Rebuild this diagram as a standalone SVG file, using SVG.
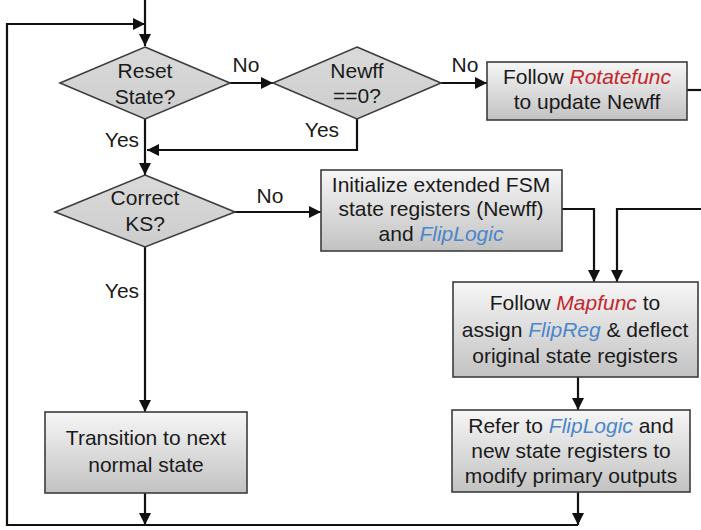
<svg xmlns="http://www.w3.org/2000/svg" width="701" height="530" viewBox="0 0 701 530">
  <style>
    text { font-family: "Liberation Sans", Arial, sans-serif; font-size: 21px; fill: #1a1a1a; text-anchor: middle; }
    .box { fill: url(#boxFill); stroke: #3c3c3c; stroke-width: 1.6; }
    .dec { fill: url(#decFill); stroke: #3c3c3c; stroke-width: 1.6; }
    .wire { fill: none; stroke: #111; stroke-width: 2.2; }
    .arr { marker-end: url(#head); }
    .red { fill: #c3262c; font-style: italic; }
    .blue { fill: #4a86c9; font-style: italic; }
  </style>
  <defs>
    <linearGradient id="boxFill" x1="0" y1="0" x2="0" y2="1">
      <stop offset="0" stop-color="#f6f6f6"/>
      <stop offset="1" stop-color="#c2c2c2"/>
    </linearGradient>
    <linearGradient id="decFill" x1="0" y1="0" x2="0" y2="1">
      <stop offset="0" stop-color="#dadada"/>
      <stop offset="1" stop-color="#cdcdcd"/>
    </linearGradient>
    <marker id="head" markerUnits="userSpaceOnUse" markerWidth="12" markerHeight="12" refX="12" refY="6" orient="auto">
      <path d="M0,0 L12,6 L0,12 z" fill="#111"/>
    </marker>
  </defs>

  <g id="connectors">
    <path class="wire arr" d="M145,0 V46"/>
    <path class="wire arr" d="M578,525 H7 V24 H145"/>
    <path class="wire arr" d="M230,83 H273"/>
    <path class="wire arr" d="M441,83 H487"/>
    <path class="wire" d="M687,90 H701"/>
    <path class="wire arr" d="M357,119 V150 H147"/>
    <path class="wire arr" d="M145,119 V175"/>
    <path class="wire arr" d="M235,212 H321"/>
    <path class="wire arr" d="M145,247 V412"/>
    <path class="wire arr" d="M562,209 H594 V282"/>
    <path class="wire arr" d="M701,209 H617 V282"/>
    <path class="wire arr" d="M578,377 V410"/>
    <path class="wire arr" d="M578,492 V525"/>
    <path class="wire arr" d="M145,493 V525"/>
    <text x="246" y="72">No</text>
    <text x="465" y="72">No</text>
    <text x="322" y="137">Yes</text>
    <text x="122" y="147">Yes</text>
    <text x="270" y="203">No</text>
    <text x="122" y="298">Yes</text>
  </g>

  <g id="reset-state">
    <polygon class="dec" points="145,47 230,83 145,119 60,83"/>
    <text x="145" y="78">Reset</text>
    <text x="145" y="104">State?</text>
  </g>

  <g id="newff-zero">
    <polygon class="dec" points="357,47 441,83 357,119 273,83"/>
    <text x="357" y="78">Newff</text>
    <text x="357" y="103">==0?</text>
  </g>

  <g id="rotate-newff">
    <rect class="box" x="487" y="62" width="200" height="58"/>
    <text x="587" y="84">Follow <tspan class="red">Rotatefunc</tspan></text>
    <text x="587" y="109">to update Newff</text>
  </g>

  <g id="correct-ks">
    <polygon class="dec" points="145,175 235,212 145,247 55,212"/>
    <text x="145" y="205">Correct</text>
    <text x="145" y="231">KS?</text>
  </g>

  <g id="init-fsm">
    <rect class="box" x="321" y="170" width="241" height="81"/>
    <text x="441" y="192">Initialize extended FSM</text>
    <text x="441" y="216">state registers (Newff)</text>
    <text x="441" y="241">and <tspan class="blue">FlipLogic</tspan></text>
  </g>

  <g id="map-func">
    <rect class="box" x="453" y="282" width="245" height="95"/>
    <text x="575" y="310">Follow <tspan class="red">Mapfunc</tspan> to</text>
    <text x="575" y="337">assign <tspan class="blue">FlipReg</tspan> &amp; deflect</text>
    <text x="575" y="363">original state registers</text>
  </g>

  <g id="refer-fliplogic">
    <rect class="box" x="452" y="410" width="238" height="82"/>
    <text x="571" y="433">Refer to <tspan class="blue">FlipLogic</tspan> and</text>
    <text x="571" y="458">new state registers to</text>
    <text x="571" y="483">modify primary outputs</text>
  </g>

  <g id="next-state">
    <rect class="box" x="45" y="412" width="202" height="81"/>
    <text x="146" y="445">Transition to next</text>
    <text x="146" y="472">normal state</text>
  </g>
</svg>
